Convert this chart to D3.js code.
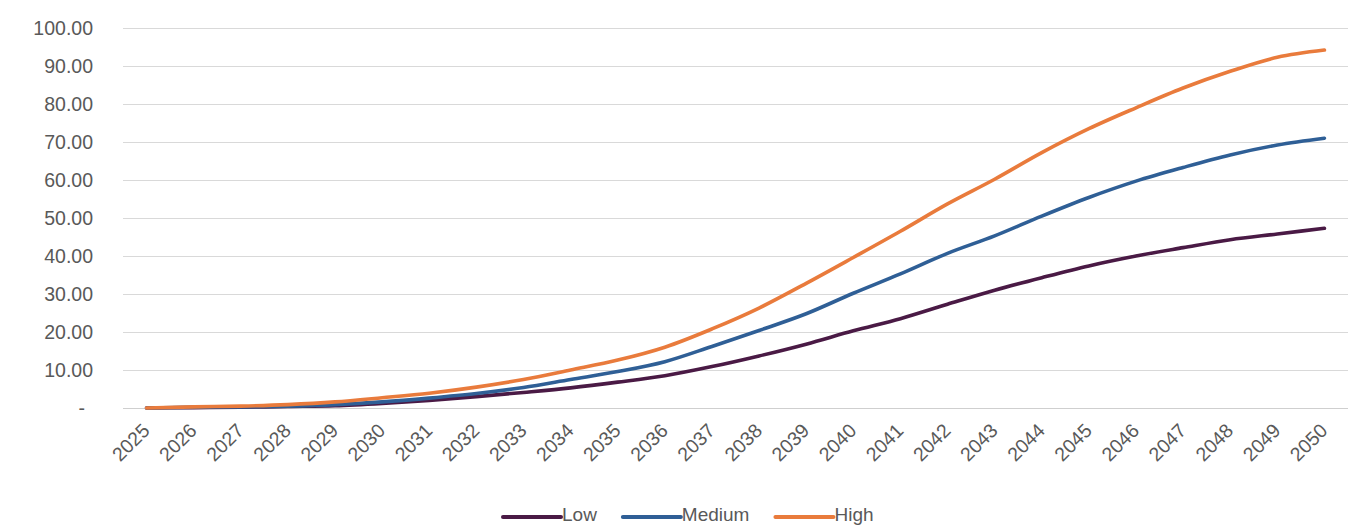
<!DOCTYPE html>
<html>
<head>
<meta charset="utf-8">
<script src="https://cdn.jsdelivr.net/npm/d3@7"></script>
<style>
  html, body { margin: 0; padding: 0; background: #fff; }
  svg { display: block; }
  text { font-family: "Liberation Sans", Arial, sans-serif; fill: #595959; }
</style>
</head>
<body>
<svg id="chart" width="1369" height="527"></svg>
<script>
const years = ["2025","2026","2027","2028","2029","2030","2031","2032","2033","2034","2035","2036","2037",
  "2038","2039","2040","2041","2042","2043","2044","2045","2046","2047","2048","2049","2050"];
const low    = [0, 0.1, 0.2, 0.4, 0.6, 1.2, 2.0, 3.0, 4.1, 5.3, 6.8, 8.5, 10.9, 13.7, 16.8, 20.3, 23.5, 27.3, 31.0, 34.3, 37.4, 40.0, 42.2, 44.3, 45.8, 47.3];
const medium = [0, 0.2, 0.3, 0.5, 0.9, 1.6, 2.6, 3.8, 5.4, 7.5, 9.6, 12.2, 16.2, 20.4, 24.8, 30.2, 35.3, 40.7, 45.3, 50.5, 55.4, 59.7, 63.3, 66.6, 69.2, 71.0];
const high   = [0, 0.3, 0.5, 0.9, 1.6, 2.7, 3.9, 5.5, 7.5, 10.0, 12.6, 16.0, 20.8, 26.3, 32.8, 39.6, 46.5, 53.7, 60.2, 67.2, 73.5, 79.0, 84.2, 88.6, 92.3, 94.2];
const seriesNames = ["Low", "Medium", "High"];
const seriesColors = ["#4a1a45", "#2f5f96", "#e97b3c"];
const yTicks = [0, 10, 20, 30, 40, 50, 60, 70, 80, 90, 100];

const series = [low, medium, high].map((vals, i) => ({
  name: seriesNames[i], color: seriesColors[i],
  values: vals.map((v, j) => ({year: years[j], v}))
}));

const svg = d3.select("#chart");
const plotLeft = 123, plotRight = 1348, plotTop = 28, plotBottom = 408;

const x = d3.scalePoint().domain(years).range([plotLeft, plotRight]).padding(0.5);
const y = d3.scaleLinear().domain([0, 100]).range([plotBottom, plotTop]);

// gridlines
svg.append("g").selectAll("line").data(yTicks).join("line")
  .attr("x1", plotLeft).attr("x2", plotRight)
  .attr("y1", d => Math.round(y(d)) + 0.5).attr("y2", d => Math.round(y(d)) + 0.5)
  .attr("stroke", d => d === 0 ? "#cfcfcf" : "#d9d9d9").attr("stroke-width", 1.2);

// y axis labels
const yAxis = d3.axisLeft(y).tickValues(yTicks).tickSize(0).tickPadding(0)
  .tickFormat(d => d === 0 ? "-" : d.toFixed(2));
const gy = svg.append("g").attr("transform", `translate(93,0)`).call(yAxis);
gy.select(".domain").remove();
gy.selectAll("text").style("font-size", "19.5px").style("fill", "#595959")
  .attr("font-family", "Liberation Sans, Arial, sans-serif")
  .attr("dx", d => d === 0 ? -8 : 0);

// x axis labels
const xAxis = d3.axisBottom(x).tickSize(0).tickPadding(0);
const gx = svg.append("g").attr("transform", `translate(0,${plotBottom})`).call(xAxis);
gx.select(".domain").remove();
gx.selectAll("text")
  .style("font-size", "19.5px").style("fill", "#595959")
  .attr("font-family", "Liberation Sans, Arial, sans-serif")
  .attr("text-anchor", "end")
  .attr("y", 0).attr("dy", "0.35em")
  .attr("transform", "translate(-1,19) rotate(-45)");

// lines
const line = d3.line().x(d => x(d.year)).y(d => y(d.v)).curve(d3.curveMonotoneX);
svg.append("g").selectAll("path").data(series).join("path")
  .attr("d", d => line(d.values))
  .attr("fill", "none").attr("stroke", d => d.color)
  .attr("stroke-width", 3.6).attr("stroke-linecap", "round").attr("stroke-linejoin", "round");

// legend
const legend = svg.append("g");
let lx = 503;
const ly = 514;
series.forEach(s => {
  legend.append("line").attr("x1", lx).attr("x2", lx + 58).attr("y1", ly + 3).attr("y2", ly + 3)
    .attr("stroke", s.color).attr("stroke-width", 4).attr("stroke-linecap", "round");
  const t = legend.append("text").attr("x", lx + 59).attr("y", ly).attr("dy", "0.35em")
    .style("font-size", "19px").text(s.name);
  lx += 59 + t.node().getComputedTextLength() + 26;
});
</script>
</body>
</html>
